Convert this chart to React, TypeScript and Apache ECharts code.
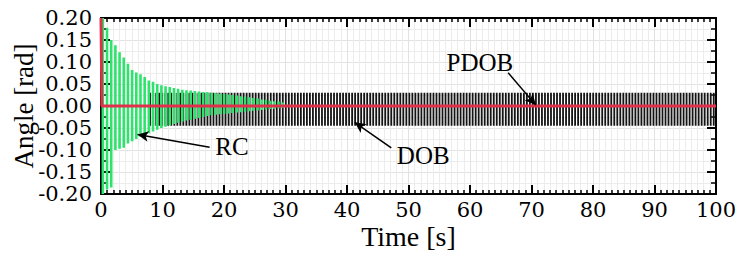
import React, { useEffect, useRef } from "react";
import * as echarts from "echarts";

// ---- axes ----
const timeMin = 0;
const timeMax = 100;
const timeStep = 10;
const angleMin = -0.2;
const angleMax = 0.2;
const angleStep = 0.05;

// ---- RC (green): per-cycle peaks ----
const rcTime = [0.3, 0.98, 1.66, 2.34, 3.02, 3.7, 4.38, 5.06, 5.74, 6.42, 7.1, 7.78, 8.46, 9.14, 9.82, 10.5, 11.18, 11.86, 12.54, 13.22, 13.9, 14.58, 15.26, 15.94, 16.62, 17.3, 17.98, 18.66, 19.34, 20.02, 20.7, 21.38, 22.06, 22.74, 23.42, 24.1, 24.78, 25.46, 26.14, 26.82, 27.5, 28.18, 28.86, 29.54];
const rcHigh = [0.2, 0.178, 0.15, 0.138, 0.122, 0.11, 0.096, 0.082, 0.076, 0.072, 0.066, 0.058, 0.055, 0.05, 0.047, 0.045, 0.043, 0.041, 0.039, 0.037, 0.036, 0.035, 0.034, 0.033, 0.032, 0.031, 0.03, 0.029, 0.028, 0.027, 0.026, 0.025, 0.024, 0.022, 0.021, 0.02, 0.018, 0.017, 0.015, 0.014, 0.012, 0.011, 0.01, 0.008];
const rcLow = [-0.2, -0.19, -0.185, -0.1, -0.097, -0.095, -0.085, -0.08, -0.075, -0.07, -0.066, -0.062, -0.058, -0.054, -0.05, -0.047, -0.044, -0.041, -0.038, -0.035, -0.033, -0.031, -0.029, -0.027, -0.025, -0.023, -0.021, -0.02, -0.019, -0.018, -0.017, -0.016, -0.015, -0.014, -0.013, -0.012, -0.011, -0.01, -0.009, -0.008, -0.007, -0.006, -0.005, -0.004];

// ---- DOB (black): steady oscillation ----
const dobStart = 8.0;
const dobPeriod = 0.49;
const dobHigh = 0.03;
const dobLow = -0.045;

// ---- PDOB (red) ----
const pdobTime = [0, 0.15, 100];
const pdobValue = [0.2, 0.0, 0.0];

// ---- annotations (data coordinates) ----
const labelNames = ["RC", "DOB", "PDOB"];
const labelAt = [[21.3, -0.091], [52.4, -0.1125], [61.6, 0.098]];
const arrowFrom = [[17.66, -0.094], [47.2, -0.095], [66.2, 0.0755]];
const arrowTo = [[5.94, -0.065], [41.25, -0.037], [70.7, 0.002]];

const FONT = "Liberation Serif";
const TICK_FONT = "DejaVu Serif";

function bars(times: number[], hi: number[], lo: number[]) {
  const out: any[] = [];
  for (let i = 0; i < times.length; i++) {
    out.push([times[i], hi[i]]);
    out.push([times[i], lo[i]]);
    out.push([times[i], null]);
  }
  return out;
}

function dobBars() {
  const t: number[] = [];
  const h: number[] = [];
  const l: number[] = [];
  for (let x = dobStart; x <= timeMax; x += dobPeriod) {
    t.push(+x.toFixed(3));
    h.push(dobHigh);
    l.push(dobLow);
  }
  return bars(t, h, l);
}

export default function App() {
  const ref = useRef<HTMLDivElement>(null);
  useEffect(() => {
    if (!ref.current) return;
    const chart = echarts.init(ref.current, undefined, { renderer: "svg" });
    const axisLine = { show: true, onZero: false, lineStyle: { color: "#000", width: 2 } };
    const xCommon = {
      type: "value" as const,
      min: timeMin,
      max: timeMax,
      interval: timeStep,
      axisLine,
      axisTick: { show: true, inside: true, length: 9, lineStyle: { color: "#000", width: 2 } },
      minorTick: { show: true, splitNumber: 10, length: 4, lineStyle: { color: "#000", width: 1.5 } },
    };
    const yCommon = {
      type: "value" as const,
      min: angleMin,
      max: angleMax,
      interval: angleStep,
      axisLine,
      axisTick: { show: true, inside: true, length: 9, lineStyle: { color: "#000", width: 2 } },
      minorTick: { show: true, splitNumber: 2, length: 5, lineStyle: { color: "#000", width: 1.5 } },
    };
    const pdobData = pdobTime.map((t, i) => [t, pdobValue[i]]);
    chart.setOption({
      animation: false,
      backgroundColor: "#fff",
      textStyle: { fontFamily: FONT, color: "#000" },
      grid: { left: 101, right: 31, top: 18, bottom: 66, outerBoundsMode: "none", containLabel: false },
      xAxis: [
        {
          ...xCommon,
          position: "bottom",
          splitLine: { show: true, lineStyle: { color: "#e2e2e2", width: 1 } },
          minorSplitLine: { show: true, lineStyle: { color: "#ececec", width: 1 } },
          axisLabel: {
            fontFamily: TICK_FONT, fontSize: 21, color: "#000", margin: 5,
            showMinLabel: true, showMaxLabel: true,
          },
          name: "Time [s]",
          nameLocation: "middle",
          nameGap: 28,
          nameMoveOverlap: false,
          nameTextStyle: { fontFamily: FONT, fontSize: 28, color: "#000" },
        },
        {
          ...xCommon,
          position: "top",
          splitLine: { show: false },
          axisLabel: { show: false },
        },
      ],
      yAxis: [
        {
          ...yCommon,
          position: "left",
          splitLine: { show: true, lineStyle: { color: "#e2e2e2", width: 1 } },
          minorSplitLine: { show: true, lineStyle: { color: "#ececec", width: 1 } },
          axisLabel: {
            fontFamily: TICK_FONT,
            fontSize: 21,
            lineHeight: 16,
            padding: [5, 0, 0, 0],
            color: "#000",
            margin: 9,
            showMinLabel: true,
            showMaxLabel: true,
            formatter: (v: number) => (Math.abs(v) < 1e-9 ? "0.00" : v.toFixed(2)),
          },
          name: "Angle [rad]",
          nameLocation: "middle",
          nameGap: 63,
          nameMoveOverlap: false,
          nameTextStyle: { fontFamily: FONT, fontSize: 27, lineHeight: 28, color: "#000" },
        },
        {
          ...yCommon,
          position: "right",
          splitLine: { show: false },
          axisLabel: { show: false },
        },
      ],
      series: [
        {
          name: "DOB",
          type: "line",
          data: dobBars(),
          showSymbol: false,
          connectNulls: false,
          lineStyle: { color: "#141414", width: 1.8 },
          z: 2,
        },
        {
          name: "RC",
          type: "line",
          data: bars(rcTime, rcHigh, rcLow),
          showSymbol: false,
          connectNulls: false,
          lineStyle: { color: "#2ee36c", width: 2.6 },
          z: 3,
        },
        {
          name: "PDOB",
          type: "line",
          data: pdobData,
          showSymbol: false,
          lineStyle: { color: "#e0304c", width: 3 },
          z: 4,
          markLine: {
            silent: true,
            symbol: ["none", "arrow"],
            symbolSize: [8, 11],
            label: { show: false },
            lineStyle: { color: "#000", width: 1.5, type: "solid" },
            data: arrowFrom.map((f, i) => [{ coord: f }, { coord: arrowTo[i] }]),
          },
          markPoint: {
            silent: true,
            symbol: "rect",
            symbolSize: 1,
            itemStyle: { color: "rgba(0,0,0,0)" },
            label: {
              show: true,
              position: "inside",
              formatter: (p: any) => p.name,
              fontFamily: FONT,
              fontSize: 25,
              color: "#000",
            },
            data: labelNames.map((n, i) => ({ name: n, coord: labelAt[i] })),
          },
        },
      ],
    });
    return () => chart.dispose();
  }, []);
  return (
    <div
      ref={ref}
      style={{ position: "fixed", left: 0, top: 0, width: 747, height: 260, background: "#fff" }}
    />
  );
}
